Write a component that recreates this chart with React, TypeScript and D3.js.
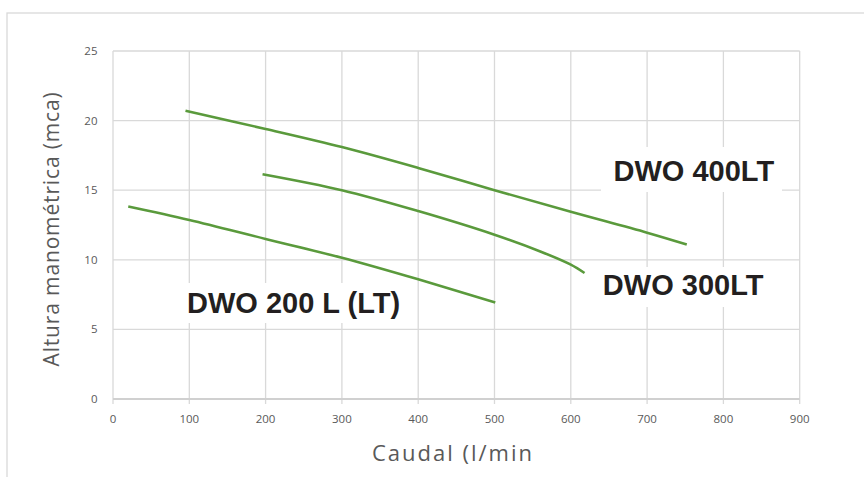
import React from "react";
import * as d3 from "d3";

const xTicks = [0, 100, 200, 300, 400, 500, 600, 700, 800, 900];
const yTicks = [0, 5, 10, 15, 20, 25];

const flow400 = [95, 200, 300, 400, 500, 600, 700, 752];
const head400 = [20.7, 19.4, 18.1, 16.6, 15.0, 13.45, 11.95, 11.1];

const flow300 = [196, 300, 400, 500, 560, 600, 618];
const head300 = [16.15, 15.0, 13.5, 11.8, 10.6, 9.65, 9.05];

const flow200 = [20, 100, 200, 300, 400, 501];
const head200 = [13.83, 12.86, 11.5, 10.15, 8.6, 6.93];

const seriesNames = ["DWO 400LT", "DWO 300LT", "DWO 200 L (LT)"];
// label anchor positions in data units (flow, head) for baseline-left placement
const labelFlow = [656, 642, 97];
const labelHead = [15.69, 7.45, 6.2];

const W = 864;
const H = 477;

export default function App() {
  const x = d3.scaleLinear().domain([0, 900]).range([113, 799.7]);
  const y = d3.scaleLinear().domain([0, 25]).range([399, 51]);

  const line = d3
    .line<[number, number]>()
    .x((d) => x(d[0]))
    .y((d) => y(d[1]))
    .curve(d3.curveCatmullRom.alpha(0.5));

  const series = [
    flow400.map((f, i) => [f, head400[i]] as [number, number]),
    flow300.map((f, i) => [f, head300[i]] as [number, number]),
    flow200.map((f, i) => [f, head200[i]] as [number, number]),
  ];

  const grid = "#d9d9d9";
  const tickColor = "#595959";
  const labelFont = 29;

  return (
    <svg
      width={W}
      height={H}
      style={{ position: "absolute", left: 0, top: 0, background: "#fff" }}
    >
      <rect x={0} y={0} width={W} height={H} fill="#fff" />
      <rect
        x={7}
        y={13}
        width={880}
        height={500}
        fill="#fff"
        stroke={grid}
        strokeWidth={1.3}
      />
      {/* gridlines */}
      {yTicks.slice(1).map((t) => (
        <line
          key={"hy" + t}
          x1={x(0)}
          x2={x(900)}
          y1={y(t)}
          y2={y(t)}
          stroke={grid}
          strokeWidth={1.3}
        />
      ))}
      {xTicks.map((t) => (
        <line
          key={"vx" + t}
          x1={x(t)}
          x2={x(t)}
          y1={y(25)}
          y2={y(0) + 5}
          stroke={grid}
          strokeWidth={1.3}
        />
      ))}
      {/* x axis line */}
      <line
        x1={x(0)}
        x2={x(900)}
        y1={y(0)}
        y2={y(0)}
        stroke="#d0d0d0"
        strokeWidth={2}
      />
      {/* tick labels */}
      {yTicks.map((t) => (
        <text
          key={"ty" + t}
          x={97.5}
          y={y(t)}
          dy="0.35em"
          textAnchor="end"
          fontFamily="'Open Sans', sans-serif"
          fontSize={11.5}
          fill={tickColor}
        >
          {t}
        </text>
      ))}
      {xTicks.map((t) => (
        <text
          key={"tx" + t}
          x={x(t)}
          y={422.5}
          textAnchor="middle"
          fontFamily="'Open Sans', sans-serif"
          fontSize={11.5}
          fill={tickColor}
        >
          {t}
        </text>
      ))}
      {/* label boxes */}
      <rect x={601} y={147} width={181} height={45} fill="#fff" />
      <rect x={591} y={267} width={186} height={40} fill="#fff" />
      <rect x={175} y={283} width={240} height={40} fill="#fff" />
      {/* series lines */}
      {series.map((s, i) => (
        <path
          key={"s" + i}
          d={line(s) || ""}
          fill="none"
          stroke="#5a9a3c"
          strokeWidth={2.6}
          strokeLinecap="butt"
        />
      ))}
      {/* series labels */}
      {seriesNames.map((n, i) => (
        <text
          key={"l" + i}
          x={x(labelFlow[i])}
          y={y(labelHead[i])}
          fontFamily="'Liberation Sans', Arial, sans-serif"
          fontWeight="bold"
          fontSize={labelFont}
          fill="#231f20"
        >
          {n}
        </text>
      ))}
      {/* axis titles */}
      <text
        x={453}
        y={461}
        textAnchor="middle"
        fontFamily="'Open Sans', sans-serif"
        fontSize={22}
        letterSpacing={2}
        fill={tickColor}
      >
        Caudal (l/min
      </text>
      <text
        transform="translate(59,229) rotate(-90)"
        textAnchor="middle"
        fontFamily="'Open Sans', sans-serif"
        fontSize={21}
        letterSpacing={0.85}
        fill={tickColor}
      >
        Altura manométrica (mca)
      </text>
    </svg>
  );
}
